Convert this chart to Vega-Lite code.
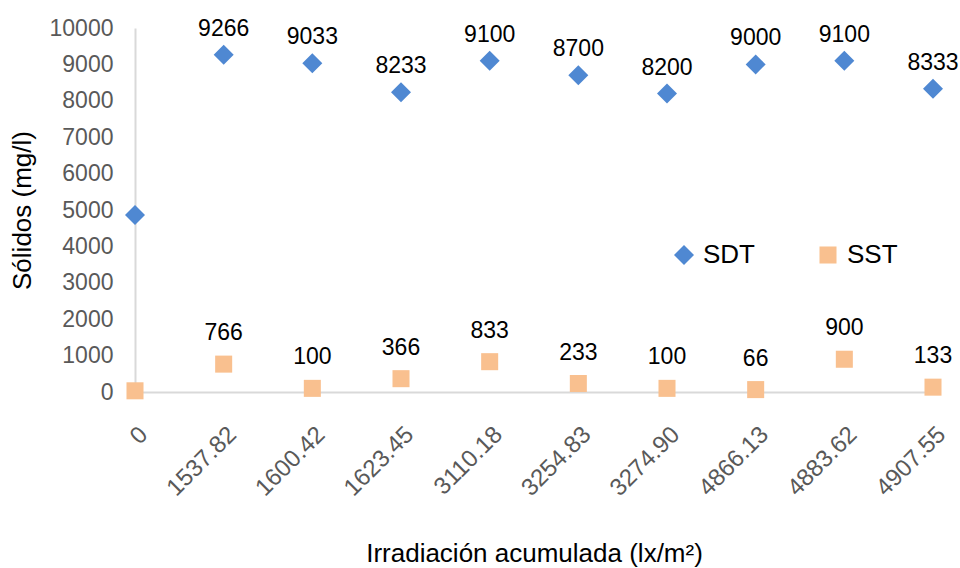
{
  "$schema": "https://vega.github.io/schema/vega-lite/v6.json",
  "width": 798,
  "height": 364,
  "autosize": {"type": "none"},
  "padding": {"left": 135, "top": 28, "right": 27, "bottom": 176},
  "background": "white",
  "config": {
    "view": {"stroke": null},
    "font": "Liberation Sans",
    "axis": {
      "labelFont": "Liberation Sans",
      "titleFont": "Liberation Sans",
      "labelColor": "#595959",
      "labelFontSize": 23,
      "titleFontSize": 26,
      "titleFontWeight": "normal",
      "titleColor": "#000000",
      "grid": false,
      "ticks": false,
      "domainColor": "#d9d9d9",
      "domainWidth": 2
    },
    "legend": {
      "labelFont": "Liberation Sans",
      "labelFontSize": 26,
      "labelColor": "#000000"
    }
  },
  "data": {
    "values": [
      {"irradiacion": "0", "serie": "SDT", "valor": 4866},
      {"irradiacion": "1537.82", "serie": "SDT", "valor": 9266},
      {"irradiacion": "1600.42", "serie": "SDT", "valor": 9033},
      {"irradiacion": "1623.45", "serie": "SDT", "valor": 8233},
      {"irradiacion": "3110.18", "serie": "SDT", "valor": 9100},
      {"irradiacion": "3254.83", "serie": "SDT", "valor": 8700},
      {"irradiacion": "3274.90", "serie": "SDT", "valor": 8200},
      {"irradiacion": "4866.13", "serie": "SDT", "valor": 9000},
      {"irradiacion": "4883.62", "serie": "SDT", "valor": 9100},
      {"irradiacion": "4907.55", "serie": "SDT", "valor": 8333},
      {"irradiacion": "0", "serie": "SST", "valor": 33},
      {"irradiacion": "1537.82", "serie": "SST", "valor": 766},
      {"irradiacion": "1600.42", "serie": "SST", "valor": 100},
      {"irradiacion": "1623.45", "serie": "SST", "valor": 366},
      {"irradiacion": "3110.18", "serie": "SST", "valor": 833},
      {"irradiacion": "3254.83", "serie": "SST", "valor": 233},
      {"irradiacion": "3274.90", "serie": "SST", "valor": 100},
      {"irradiacion": "4866.13", "serie": "SST", "valor": 66},
      {"irradiacion": "4883.62", "serie": "SST", "valor": 900},
      {"irradiacion": "4907.55", "serie": "SST", "valor": 133}
    ]
  },
  "encoding": {
    "x": {
      "field": "irradiacion",
      "type": "ordinal",
      "sort": null,
      "scale": {"type": "point", "padding": 0},
      "axis": {
        "title": "Irradiación acumulada (lx/m²)",
        "labelAngle": -45,
        "labelFontSize": 24,
        "labelPadding": 30,
        "labelDx": 3,
        "titlePadding": 40
      }
    },
    "y": {
      "field": "valor",
      "type": "quantitative",
      "scale": {"domain": [0, 10000], "nice": false},
      "axis": {
        "title": "Sólidos (mg/l)",
        "format": "d",
        "values": [0, 1000, 2000, 3000, 4000, 5000, 6000, 7000, 8000, 9000, 10000],
        "labelPadding": 22,
        "titlePadding": 14
      }
    }
  },
  "layer": [
    {
      "mark": {"type": "point", "filled": true, "opacity": 1},
      "encoding": {
        "color": {
          "field": "serie",
          "type": "nominal",
          "scale": {"domain": ["SDT", "SST"], "range": ["#4f88d2", "#f9c08f"]},
          "legend": {
            "title": null,
            "orient": "none",
            "legendX": 536,
            "legendY": 214,
            "direction": "horizontal",
            "symbolSize": 270,
            "symbolStrokeWidth": 0,
            "labelOffset": 6,
            "columnPadding": 60
          }
        },
        "shape": {
          "field": "serie",
          "type": "nominal",
          "scale": {"domain": ["SDT", "SST"], "range": ["diamond", "square"]}
        },
        "size": {
          "field": "serie",
          "type": "nominal",
          "scale": {"domain": ["SDT", "SST"], "range": [400, 290]},
          "legend": null
        }
      }
    },
    {
      "transform": [{"filter": "datum.serie === 'SDT' && datum.irradiacion !== '0'"}],
      "mark": {"type": "text", "fontSize": 23, "color": "#000000", "dy": -26, "baseline": "middle"},
      "encoding": {"text": {"field": "valor", "type": "quantitative", "format": "d"}}
    },
    {
      "transform": [{"filter": "datum.serie === 'SST' && datum.irradiacion !== '0'"}],
      "mark": {"type": "text", "fontSize": 23, "color": "#000000", "dy": -31, "baseline": "middle"},
      "encoding": {"text": {"field": "valor", "type": "quantitative", "format": "d"}}
    }
  ]
}
